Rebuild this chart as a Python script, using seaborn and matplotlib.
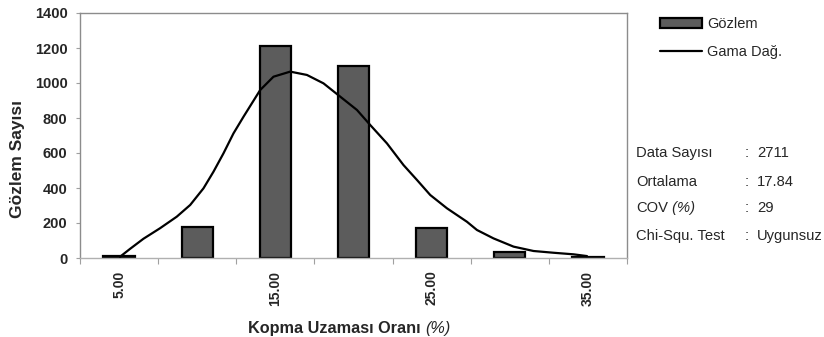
import matplotlib
matplotlib.use("Agg")
import matplotlib.pyplot as plt
import seaborn as sns
import numpy as np

# ---- data ----
categories = [5, 10, 15, 20, 25, 30, 35]
observed = [12, 180, 1210, 1095, 171, 34, 3]
gamma_x = [5.06, 5.70, 6.56, 7.62, 8.69, 9.55, 10.40, 11.04, 11.68, 12.32, 12.96,
           14.03, 14.88, 15.95, 17.02, 18.08, 19.15, 20.22, 21.07, 22.14, 23.20,
           24.06, 24.91, 25.98, 27.26, 27.90, 28.96, 30.24, 31.52, 32.80, 34.08, 34.94]
gamma_y = [7, 52, 110, 170, 236, 303, 398, 493, 598, 712, 807,
           960, 1036, 1065, 1046, 998, 922, 846, 760, 655, 531,
           446, 360, 284, 207, 160, 112, 65, 40, 30, 21, 11]
xtick_vals = [5, 15, 25, 35]
xtick_labels = ["5.00", "15.00", "25.00", "35.00"]
yticks = [0, 200, 400, 600, 800, 1000, 1200, 1400]
stats_labels = ["Data Sayısı", "Ortalama", "COV", "Chi-Squ. Test"]
stats_values = ["2711", "17.84", "29", "Uygunsuz"]

sns.set_style("white")
plt.rcParams["font.family"] = ["Liberation Sans", "DejaVu Sans"]

fig = plt.figure(figsize=(8.24, 3.37), dpi=100)
ax = fig.add_axes([80/824, 1-258/337, (627-80)/824, (258-13)/337])

sns.barplot(x=categories, y=observed, native_scale=True, width=0.4,
            color="#5c5c5c", saturation=1, edgecolor="black", linewidth=1.6,
            ax=ax, label="Gözlem", zorder=2)
sns.lineplot(x=gamma_x, y=gamma_y, color="black", linewidth=1.6, ax=ax,
             label="Gama Dağ.", zorder=3, solid_joinstyle="round",
             solid_capstyle="round")

ax.set_xlim(2.5, 37.5)
ax.set_ylim(0, 1400)
ax.set_yticks(yticks)
ax.set_yticklabels([str(v) for v in yticks], fontweight="bold", fontsize=10.5)
ax.set_xticks(xtick_vals)
ax.set_xticklabels(xtick_labels, rotation=90, fontweight="bold", fontsize=10)
ax.set_xticks(np.arange(2.5, 38, 5), minor=True)
ax.tick_params(axis="x", which="major", length=0, pad=9)
ax.tick_params(axis="x", which="minor", length=4, color="#a0a0a0", direction="out", width=0.8)
ax.tick_params(axis="y", length=3, color="#a0a0a0", direction="out", width=0.8, pad=6)
ax.tick_params(axis="both", bottom=True, left=True, which="both")
for s in ax.spines.values():
    s.set_visible(True)
    s.set_color("#8c8c8c")
    s.set_linewidth(1.0)
ax.spines["bottom"].set_color("#b0b0b0")

ax.set_ylabel("Gözlem Sayısı", fontweight="bold", fontsize=12.5)
ax.yaxis.set_label_coords(-0.1005, 0.406)
ax.set_xlabel("")

t = fig.text(337/824, 1-333/337, "Kopma Uzaması Oranı ", fontweight="bold",
             fontsize=11.7, ha="center", va="baseline")
ax.annotate("(%)", xy=(1, 0), xycoords=t, xytext=(0, 0), textcoords="offset points",
            fontstyle="italic", fontsize=11.7, va="bottom", ha="left",
            annotation_clip=False)

handles, labels = ax.get_legend_handles_labels()
order = [labels.index("Gözlem"), labels.index("Gama Dağ.")]
leg = ax.legend([handles[i] for i in order], [labels[i] for i in order],
                loc="upper left", bbox_to_anchor=(654/824, 1-11/337),
                bbox_transform=fig.transFigure, frameon=False, fontsize=10.5,
                handlelength=2.9, handletextpad=0.35, labelspacing=1.0,
                borderaxespad=0)

ys = [153, 182, 208, 236]
for lab, val, y in zip(stats_labels, stats_values, ys):
    yy = 1 - y/337
    tt = fig.text(636/824, yy, lab, fontsize=10.6, va="center", ha="left")
    if lab == "COV":
        ax.annotate(" (%)", xy=(1, 0.5), xycoords=tt, fontstyle="italic",
                    fontsize=10.6, va="center", ha="left", annotation_clip=False)
    fig.text(745/824, yy, ":", fontsize=10.6, va="center", ha="left")
    fig.text(757/824, yy, val, fontsize=10.6, va="center", ha="left")

fig.savefig("out.png", dpi=100)
